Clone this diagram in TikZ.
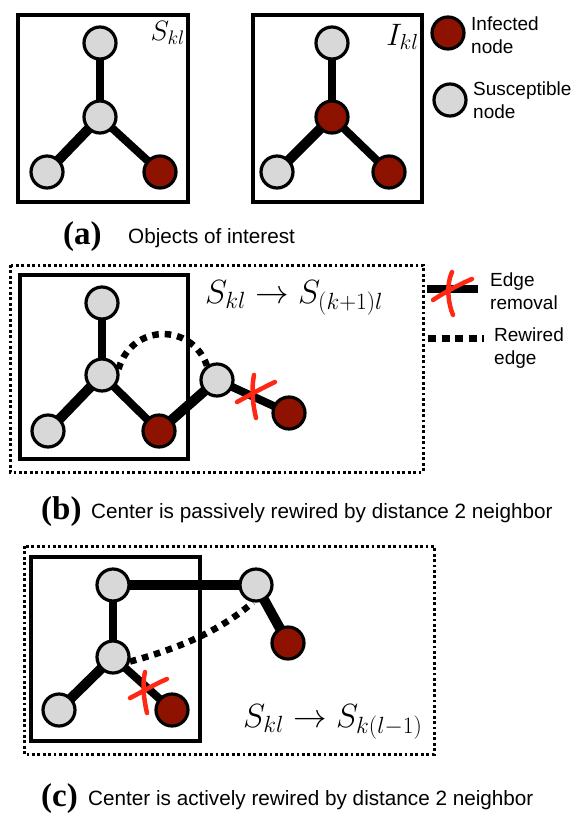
\documentclass[tikz,border=0pt]{standalone}
\usepackage{fix-cm}
\usepackage{fontspec}
\setmainfont{Liberation Serif}
\newfontfamily\lsans{Liberation Sans}
\definecolor{sus}{RGB}{216,216,216}
\definecolor{inf}{RGB}{142,18,0}
\definecolor{xred}{RGB}{255,40,20}
\begin{document}
\begin{tikzpicture}[x=1pt,y=-1pt,
 nd/.style={circle,draw=black,line width=3.2pt,minimum size=32pt,inner sep=0pt},
 snode/.style={nd,fill=sus}, inode/.style={nd,fill=inf},
 edge/.style={line width=8pt},
 thickedge/.style={line width=10pt},
 frame/.style={line width=3.2pt},
 dotbox/.style={line width=3pt,dash pattern=on 2.8pt off 2.6pt},
 rewired/.style={line width=6.5pt,dash pattern=on 6.5pt off 6pt},
 cross/.style={draw=xred,line width=4.5pt,line cap=round},
 lbl/.style={font=\lsans\fontsize{19}{23}\selectfont,align=left,anchor=west,inner sep=0pt},
 captext/.style={font=\lsans\fontsize{20.7}{24}\selectfont,anchor=base west,inner sep=0pt},
 tagtext/.style={font=\bfseries\fontsize{33}{36}\selectfont,anchor=base west,inner sep=0pt},
 mathA/.style={font=\fontsize{28}{30}\selectfont,anchor=base east,inner sep=0pt},
 mathB/.style={font=\fontsize{33.5}{36}\selectfont,anchor=base west,inner sep=0pt}]
\useasboundingbox (0,0) rectangle (581,820);
\fill[white] (0,0) rectangle (581,820);

% ---------- panel (a) ----------
\draw[frame] (18,15) rectangle (188,202);
\draw[frame] (253,15) rectangle (422,202);
\path (100,43) coordinate (pa1t) (100,117) coordinate (pa1c) (47,172) coordinate (pa1l) (160,172) coordinate (pa1r);
\path (332,43) coordinate (pa2t) (332,117) coordinate (pa2c) (277,172) coordinate (pa2l) (389,172) coordinate (pa2r);
\draw[edge] (pa1t) -- (pa1c);
\draw[thickedge] (pa1c) -- (pa1l);
\draw[edge] (pa1c) -- (pa1r);
\draw[edge] (pa2t) -- (pa2c);
\draw[thickedge] (pa2c) -- (pa2l);
\draw[edge] (pa2c) -- (pa2r);
\node[snode] (a1t) at (pa1t) {};
\node[snode] (a1c) at (pa1c) {};
\node[snode] (a1l) at (pa1l) {};
\node[inode] (a1r) at (pa1r) {};
\node[snode] (a2t) at (pa2t) {};
\node[inode] (a2c) at (pa2c) {};
\node[snode] (a2l) at (pa2l) {};
\node[inode] (a2r) at (pa2r) {};
\node[mathA] (la1) at (185,40) {$S_{kl}$};
\node[mathA,font=\fontsize{31}{33}\selectfont] (la2) at (419,45) {$I_{kl}$};
% legend (a)
\node[inode] (legI) at (448,33) {};
\node[lbl] (legIt) at (471,35) {Infected\\node};
\node[snode] (legS) at (450,100) {};
\node[lbl] (legSt) at (473,100.5) {Susceptible\\node};
\node[tagtext] (tagA) at (63,244) {(a)};
\node[captext] (capA) at (128,243) {Objects of interest};

% ---------- panel (b) ----------
\draw[dotbox] (10,265) rectangle (423,472);
\draw[frame] (20,275) rectangle (188,459);
\node[mathB] (lb) at (205,303) {$S_{kl}\to S_{(k+1)l}$};
\coordinate (lgEa) at (427,289);
\coordinate (lgEb) at (478,289);
\coordinate (lgRa) at (428,338);
\coordinate (lgRb) at (484,338);
\draw[line width=8.5pt] (lgEa) -- (lgEb);
\draw[cross] (433,300) .. controls (445,292) and (460,284) .. (472,279);
\draw[cross] (452,272) .. controls (446,285) and (448,303) .. (453,315);
\draw[line width=7pt,dash pattern=on 8pt off 5.5pt] (lgRa) -- (lgRb);
\node[lbl] (lgEt) at (490,291.5) {Edge\\removal};
\node[lbl] (lgRt) at (494,348.5) {Rewired\\edge};

\path (102,303) coordinate (pbt) (102,375) coordinate (pbc) (48,431) coordinate (pbl)
      (159,431) coordinate (pbr) (217,380) coordinate (pbn) (289,413) coordinate (pbf);
\draw[edge] (pbt) -- (pbc);
\draw[thickedge] (pbc) -- (pbl);
\draw[edge] (pbc) -- (pbr);
\draw[thickedge] (pbr) -- (pbn);
\draw[edge] (pbn) -- (pbf);
\node[snode] (bt) at (pbt) {};
\node[snode] (bc) at (pbc) {};
\node[snode] (bl) at (pbl) {};
\node[inode] (br) at (pbr) {};
\node[snode] (bn) at (pbn) {};
\node[inode] (bf) at (pbf) {};
\draw[rewired] (bc.20) .. controls (132,323) and (192,323) .. (bn.125);
\draw[cross] (237,402) .. controls (250,395) and (262,388) .. (275,382);
\draw[cross] (254,375) .. controls (251,390) and (253,405) .. (256,418);
\node[tagtext] (tagB) at (41,519) {(b)};
\node[captext] (capB) at (91,518) {Center is passively rewired by distance 2 neighbor};

% ---------- panel (c) ----------
\draw[dotbox] (24,546) rectangle (434,754);
\draw[frame] (31,557) rectangle (200,741);
\node[mathB] (lc) at (243,727) {$S_{kl}\to S_{k(l-1)}$};
\path (113,585) coordinate (pct) (113,657) coordinate (pcc) (59,710) coordinate (pcl)
      (172,710) coordinate (pcr) (256,585) coordinate (pcn) (288,643) coordinate (pcf);
\draw[edge] (pct) -- (pcc);
\draw[thickedge] (pcc) -- (pcl);
\draw[edge] (pcc) -- (pcr);
\draw[thickedge] (pct) -- (pcn);
\draw[thickedge] (pcn) -- (pcf);
\node[snode] (ct) at (pct) {};
\node[snode] (cc) at (pcc) {};
\node[snode] (cl) at (pcl) {};
\node[inode] (cr) at (pcr) {};
\node[snode] (cn) at (pcn) {};
\node[inode] (cf) at (pcf) {};
\draw[rewired] (cc.-15) .. controls (184,647) and (222,629) .. (cn.-100);
\draw[cross] (130,698) .. controls (142,692) and (155,684) .. (167,679);
\draw[cross] (145,672) .. controls (142,685) and (144,700) .. (147,713);
\node[tagtext] (tagC) at (41,806) {(c)};
\node[captext] (capC) at (88,805) {Center is actively rewired by distance 2 neighbor};
\end{tikzpicture}
\end{document}
